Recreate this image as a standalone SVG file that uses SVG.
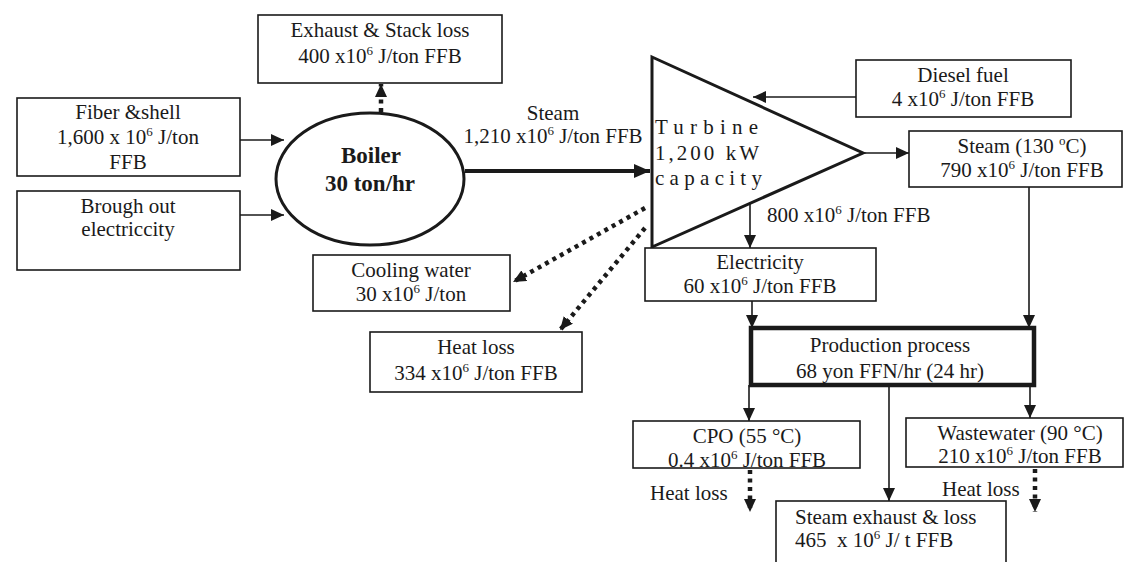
<svg xmlns="http://www.w3.org/2000/svg" width="1130" height="562" viewBox="0 0 1130 562">
<style>
text{font-family:"Liberation Serif","Times New Roman",serif;font-size:21px;fill:#1a1a1a}
.c{text-anchor:middle}
.b{font-weight:bold;font-size:23px}
.box{fill:#fff;stroke:#1a1a1a;stroke-width:1.6}
.ln{fill:none;stroke:#1a1a1a;stroke-width:1.6}
.dot{fill:none;stroke:#1a1a1a;stroke-width:4.5;stroke-dasharray:4 4.5}
.sup{font-size:13px}
</style>
<defs>
<marker id="ah" markerUnits="userSpaceOnUse" markerWidth="13" markerHeight="12" refX="13" refY="6" orient="auto"><path d="M0,0 L13,6 L0,12 z" fill="#1a1a1a"/></marker>
<marker id="ahb" markerUnits="userSpaceOnUse" markerWidth="16" markerHeight="14" refX="16" refY="7" orient="auto"><path d="M0,0 L16,7 L0,14 z" fill="#1a1a1a"/></marker>
</defs>
<rect width="1130" height="562" fill="#fff"/>

<g id="connectors">
<line class="ln" x1="240" y1="140" x2="284" y2="140" marker-end="url(#ah)"/>
<line class="ln" x1="240" y1="215" x2="284" y2="215" marker-end="url(#ah)"/>
<line class="dot" x1="381" y1="112" x2="381" y2="84" marker-end="url(#ah)"/>
<line x1="465" y1="171" x2="650" y2="171" stroke="#1a1a1a" stroke-width="4" marker-end="url(#ahb)"/>
<line class="ln" x1="856" y1="97" x2="753" y2="97" marker-end="url(#ah)"/>
<line class="ln" x1="863" y1="153" x2="909" y2="153" marker-end="url(#ah)"/>
<line class="ln" x1="750" y1="203" x2="750" y2="248" marker-end="url(#ah)"/>
<polyline class="ln" points="1029,187 1029,328" marker-end="url(#ah)"/>
<line class="ln" x1="752" y1="301" x2="752" y2="328" marker-end="url(#ah)"/>
<line class="dot" x1="645" y1="208" x2="513" y2="282" marker-end="url(#ah)"/>
<line class="dot" x1="645" y1="228" x2="560" y2="330" marker-end="url(#ah)"/>
<line class="ln" x1="749" y1="385" x2="749" y2="421" marker-end="url(#ah)"/>
<line class="ln" x1="1030" y1="385" x2="1030" y2="418" marker-end="url(#ah)"/>
<line class="ln" x1="889" y1="385" x2="889" y2="501" marker-end="url(#ah)"/>
<line class="dot" x1="750" y1="470" x2="750" y2="512" marker-end="url(#ah)"/>
<line class="dot" x1="1035" y1="469" x2="1035" y2="512" marker-end="url(#ah)"/>
<text class="c" x="553" y="120">Steam</text>
<text class="c" x="553" y="143">1,210 x10<tspan class="sup" dy="-8">6</tspan><tspan dy="8"> J/ton FFB</tspan></text>
<text x="767" y="222">800 x10<tspan class="sup" dy="-8">6</tspan><tspan dy="8"> J/ton FFB</tspan></text>
<text x="650" y="500">Heat loss</text>
<text x="942" y="496">Heat loss</text>
</g>

<g id="exhaust">
<rect class="box" x="258" y="15" width="244" height="68"/>
<text class="c" x="380" y="37">Exhaust &amp; Stack loss</text>
<text class="c" x="380" y="63">400 x10<tspan class="sup" dy="-8">6</tspan><tspan dy="8"> J/ton FFB</tspan></text>
</g>

<g id="fiber">
<rect class="box" x="17" y="98" width="223" height="78"/>
<text class="c" x="128" y="119">Fiber &amp;shell</text>
<text class="c" x="128" y="144">1,600 x 10<tspan class="sup" dy="-8">6</tspan><tspan dy="8"> J/ton</tspan></text>
<text class="c" x="128" y="169">FFB</text>
</g>

<g id="brough">
<rect class="box" x="17" y="191" width="223" height="79"/>
<text class="c" x="128" y="213">Brough out</text>
<text class="c" x="128" y="236">electriccity</text>
</g>

<g id="boiler">
<ellipse cx="370" cy="179" rx="94" ry="66" fill="#fff" stroke="#1a1a1a" stroke-width="3"/>
<text class="c b" x="371" y="163">Boiler</text>
<text class="c b" x="370" y="191">30 ton/hr</text>
</g>

<g id="turbine">
<polygon points="652,57 863,153 652,247" fill="#fff" stroke="#1a1a1a" stroke-width="3" stroke-linejoin="miter"/>
<text x="655" y="134" textLength="103" lengthAdjust="spacing">Turbine</text>
<text x="655" y="160" textLength="104" lengthAdjust="spacing">1,200 kW</text>
<text x="655" y="185" textLength="107" lengthAdjust="spacing">capacity</text>
</g>

<g id="diesel">
<rect class="box" x="856" y="60" width="215" height="57"/>
<text class="c" x="963" y="82">Diesel fuel</text>
<text class="c" x="963" y="106">4 x10<tspan class="sup" dy="-8">6</tspan><tspan dy="8"> J/ton FFB</tspan></text>
</g>

<g id="steam130">
<rect class="box" x="909" y="131" width="213" height="56"/>
<text class="c" x="1022" y="153">Steam (130 <tspan class="sup" dy="-8">o</tspan><tspan dy="8">C)</tspan></text>
<text class="c" x="1022" y="177">790 x10<tspan class="sup" dy="-8">6</tspan><tspan dy="8"> J/ton FFB</tspan></text>
</g>

<g id="cooling">
<rect class="box" x="313" y="255" width="197" height="56"/>
<text class="c" x="411" y="277">Cooling water</text>
<text class="c" x="411" y="301">30 x10<tspan class="sup" dy="-8">6</tspan><tspan dy="8"> J/ton</tspan></text>
</g>

<g id="heatloss">
<rect class="box" x="370" y="332" width="212" height="60"/>
<text class="c" x="476" y="354">Heat loss</text>
<text class="c" x="476" y="380">334 x10<tspan class="sup" dy="-8">6</tspan><tspan dy="8"> J/ton FFB</tspan></text>
</g>

<g id="electricity">
<rect class="box" x="645" y="248" width="231" height="53"/>
<text class="c" x="760" y="269">Electricity</text>
<text class="c" x="760" y="293">60 x10<tspan class="sup" dy="-8">6</tspan><tspan dy="8"> J/ton FFB</tspan></text>
</g>

<g id="production">
<rect x="751" y="328" width="283" height="57" fill="#fff" stroke="#1a1a1a" stroke-width="4.5"/>
<text class="c" x="890" y="352">Production process</text>
<text class="c" x="890" y="378">68 yon FFN/hr (24 hr)</text>
</g>

<g id="cpo">
<rect class="box" x="633" y="421" width="227" height="47"/>
<text class="c" x="747" y="443">CPO (55 °C)</text>
<text class="c" x="747" y="467">0.4 x10<tspan class="sup" dy="-8">6</tspan><tspan dy="8"> J/ton FFB</tspan></text>
</g>

<g id="wastewater">
<rect class="box" x="906" y="418" width="217" height="49"/>
<text class="c" x="1020" y="440">Wastewater (90 °C)</text>
<text class="c" x="1020" y="463">210 x10<tspan class="sup" dy="-8">6</tspan><tspan dy="8"> J/ton FFB</tspan></text>
</g>

<g id="steamexhaust">
<rect class="box" x="776" y="501" width="230" height="70"/>
<text x="795" y="524">Steam exhaust &amp; loss</text>
<text x="795" y="547" xml:space="preserve">465  x 10<tspan class="sup" dy="-8">6</tspan><tspan dy="8"> J/ t FFB</tspan></text>
</g>
</svg>
